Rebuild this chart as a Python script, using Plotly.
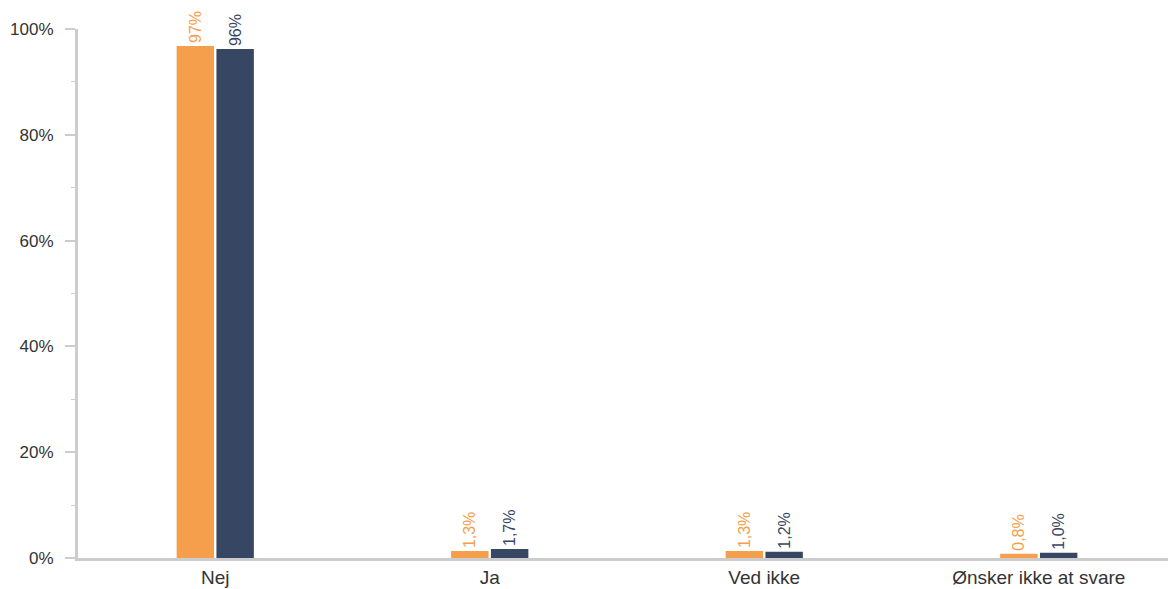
import plotly.graph_objects as go

categories = ["Nej", "Ja", "Ved ikke", "Ønsker ikke at svare"]
series_a = [96.8, 1.3, 1.3, 0.8]
series_b = [96.2, 1.7, 1.2, 1.0]
labels_a = ["97%", "1,3%", "1,3%", "0,8%"]
labels_b = ["96%", "1,7%", "1,2%", "1,0%"]
y_tickvals = [0, 20, 40, 60, 80, 100]
y_ticktext = ["0%", "20%", "40%", "60%", "80%", "100%"]
color_a = "#F59E4C"
color_b = "#374763"

fig = go.Figure()
fig.add_trace(go.Bar(x=categories, y=series_a, text=labels_a, textposition="outside",
                     textangle=-90, marker_color=color_a, marker_line_width=0,
                     textfont=dict(color=color_a, size=16), cliponaxis=False,
                     constraintext="none", hoverinfo="skip"))
fig.add_trace(go.Bar(x=categories, y=series_b, text=labels_b, textposition="outside",
                     textangle=-90, marker_color=color_b, marker_line_width=0,
                     textfont=dict(color=color_b, size=16), cliponaxis=False,
                     constraintext="none", hoverinfo="skip"))

fig.update_layout(
    width=1168, height=581,
    margin=dict(l=70, r=0, t=21, b=31),
    barmode="group", bargap=0.71, bargroupgap=0.06,
    showlegend=False,
    plot_bgcolor="white", paper_bgcolor="white",
    font=dict(family="Liberation Sans, Arial, sans-serif", size=17, color="#333333"),
)
fig.update_yaxes(range=[0, 100], tickvals=y_tickvals, ticktext=y_ticktext,
                 showgrid=False, zeroline=False, showline=True, linecolor="#cccccc", linewidth=3,
                 ticks="outside", ticklen=10, tickwidth=2, tickcolor="#cccccc",
                 ticklabelstandoff=8, tickfont=dict(size=17, color="#333333"),
                 minor=dict(tickvals=[10, 30, 50, 70, 90], ticks="outside", ticklen=4,
                            tickwidth=1, tickcolor="#cccccc"))
fig.update_xaxes(showgrid=False, showline=True, linecolor="#cccccc", linewidth=3,
                 ticks="", tickfont=dict(size=19, color="#333333"))

fig.write_html("out.html")
